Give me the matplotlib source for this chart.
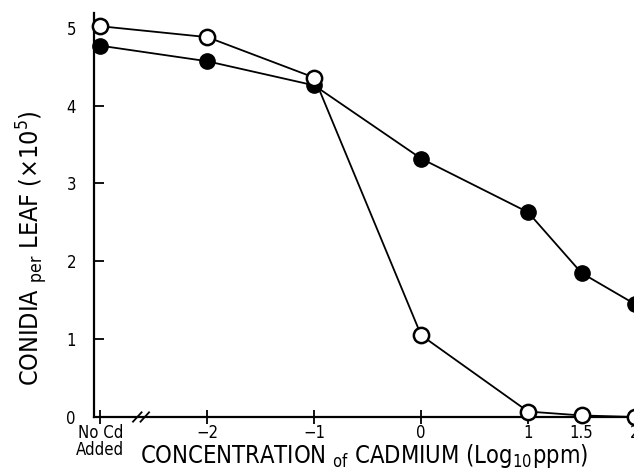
import matplotlib
matplotlib.use("Agg")
import matplotlib.pyplot as plt

plt.rcParams['font.family'] = ['DejaVu Sans']
plt.rcParams['font.stretch'] = 'condensed'
plt.rcParams['mathtext.fontset'] = 'custom'
plt.rcParams['mathtext.rm'] = 'DejaVu Sans:stretch=condensed'

x_pos = [-3, -2, -1, 0, 1, 1.5, 2]
x_labels = ["No Cd\nAdded", "\u22122", "\u22121", "0", "1", "1.5", "2"]
open_vals = [5.02, 4.88, 4.36, 1.05, 0.07, 0.02, 0.0]
filled_vals = [4.77, 4.57, 4.26, 3.32, 2.63, 1.85, 1.45]
y_ticks = [0, 1, 2, 3, 4, 5]

fig = plt.figure(figsize=(6.34, 4.73), dpi=100)
ax = fig.add_axes([94/634, 56/473, 1 - 94/634 + 0.01, (417-13)/473])
ax.plot(x_pos, filled_vals, '-o', color='black', mfc='black', mec='black',
        ms=11, lw=1.3, clip_on=False, zorder=3)
ax.plot(x_pos, open_vals, '-o', color='black', mfc='white', mec='black',
        ms=11, mew=1.8, lw=1.3, clip_on=False, zorder=4)

ax.set_xlim(-3.06, 2.05)
ax.set_ylim(0, 5.19)
ax.spines['top'].set_visible(False)
ax.spines['right'].set_visible(False)
for s in ['left', 'bottom']:
    ax.spines[s].set_linewidth(1.6)
ax.set_xticks(x_pos)
ax.set_xticklabels(x_labels, fontsize=12, linespacing=0.9)
ax.set_yticks(y_ticks)
ax.set_yticklabels([str(v) for v in y_ticks], fontsize=12)
ax.tick_params(axis='x', direction='inout', length=10, width=1.3, pad=0)
ax.tick_params(axis='y', direction='in', length=7, width=1.3, pad=13)

# axis break marks
for dx in (-0.035, 0.035):
    ax.plot([-2.66 + dx, -2.58 + dx], [-0.06, 0.06], color='black', lw=1.3,
            clip_on=False, transform=ax.transData)

fig.text(0.575, 0.006,
         r"CONCENTRATION $\mathregular{_{of}}$ CADMIUM (Log$\mathregular{_{10}}$ppm)",
         ha='center', va='bottom', fontsize=17)
fig.text(0.05, 0.475,
         r"CONIDIA $\mathregular{_{per}}$ LEAF ($\mathregular{\times}$10$\mathregular{^5}$)",
         ha='center', va='center', rotation=90, fontsize=18)

fig.savefig("out.png", dpi=100)
